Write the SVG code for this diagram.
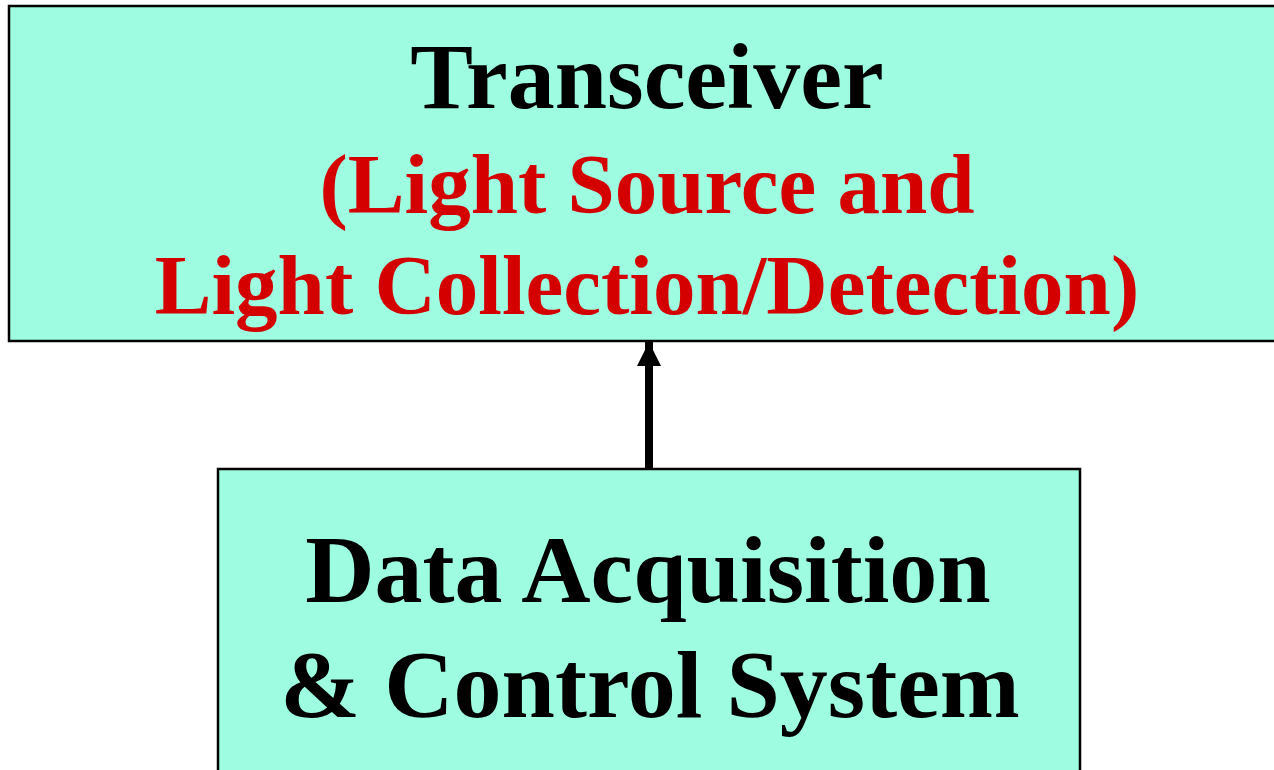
<svg xmlns="http://www.w3.org/2000/svg" width="1274" height="770" viewBox="0 0 1274 770">
<style>
.box{fill:#9efde1;stroke:#000;stroke-width:2.5}
.t{font-family:"Liberation Serif","Times New Roman",serif;font-weight:bold;text-anchor:middle}
.blk{fill:#000}
.red{fill:#d40000}
</style>
<defs>
<marker id="ah" markerUnits="userSpaceOnUse" markerWidth="24" markerHeight="24" viewBox="0 0 24 24" refX="24" refY="12" orient="auto">
<path d="M0,0 L24,12 L0,24 Z" fill="#000"/>
</marker>
</defs>
<rect width="1274" height="770" fill="#fff"/>
<g id="transceiver">
<rect class="box" x="9" y="6" width="1275" height="335"/>
<text class="t blk" x="647" y="108" font-size="94">Transceiver</text>
<text class="t red" x="647" y="213" font-size="85">(Light Source and</text>
<text class="t red" x="647" y="314" font-size="85">Light Collection/Detection)</text>
</g>
<g id="daq">
<rect class="box" x="218" y="469" width="862" height="320"/>
<text class="t blk" x="648" y="602" font-size="96">Data Acquisition</text>
<text class="t blk" x="650" y="717" font-size="96">&amp; Control System</text>
</g>
<g id="connectors">
<line x1="649" y1="468" x2="649" y2="342" stroke="#000" stroke-width="8" marker-end="url(#ah)"/>
</g>
</svg>
